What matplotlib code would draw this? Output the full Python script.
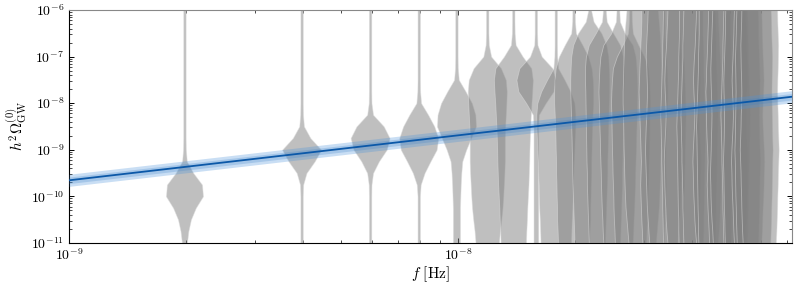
import numpy as np
import matplotlib
matplotlib.use("Agg")
import matplotlib.pyplot as plt
from matplotlib.ticker import FuncFormatter, LogLocator

plt.rcParams.update({"mathtext.fontset": "cm", "font.family": "serif",
                     "font.serif": ["DejaVu Serif"], "font.size": 11})

# ---- data ----
F_BASE = 1.98e-9                      # 1/T, Hz
HARMONICS = np.arange(1, 31)          # 30 free-spectrum bins
LOG_OMEGA_GRID = np.arange(-11.0, -5.99, 0.25)   # knots of the violin profiles

# relative violin half-widths at each knot (bottom -> top), one row per bin
VIOLIN_WIDTHS = [
    [0.13, 0.20, 0.33, 0.58, 0.95, 0.90, 0.45, 0.12, 0.07, 0.06, 0.06, 0.06, 0.06, 0.06, 0.06, 0.06, 0.06, 0.06, 0.06, 0.06, 0.06],
    [0.06, 0.06, 0.06, 0.06, 0.06, 0.08, 0.25, 0.67, 1.00, 0.45, 0.12, 0.07, 0.06, 0.06, 0.06, 0.06, 0.06, 0.06, 0.06, 0.06, 0.06],
    [0.06, 0.06, 0.06, 0.06, 0.06, 0.07, 0.15, 0.45, 0.85, 1.00, 0.70, 0.15, 0.07, 0.06, 0.06, 0.06, 0.06, 0.06, 0.06, 0.06, 0.06],
    [0.06, 0.06, 0.06, 0.06, 0.06, 0.10, 0.30, 0.60, 0.92, 1.00, 0.80, 0.48, 0.12, 0.07, 0.06, 0.06, 0.06, 0.06, 0.06, 0.06, 0.06],
    [0.18, 0.18, 0.18, 0.18, 0.20, 0.22, 0.25, 0.30, 0.50, 0.75, 1.00, 0.97, 0.79, 0.47, 0.12, 0.07, 0.06, 0.06, 0.06, 0.06, 0.06],
    [0.60, 0.65, 0.72, 0.78, 0.82, 0.85, 0.88, 0.90, 0.90, 0.90, 0.92, 0.95, 0.98, 1.00, 0.95, 0.70, 0.20, 0.08, 0.06, 0.06, 0.06],
    [0.65, 0.67, 0.70, 0.72, 0.75, 0.78, 0.80, 0.82, 0.83, 0.85, 0.87, 0.90, 0.93, 0.97, 1.00, 0.92, 0.48, 0.12, 0.07, 0.06, 0.06],
    [0.12, 0.12, 0.12, 0.12, 0.12, 0.12, 0.12, 0.12, 0.12, 0.12, 0.12, 0.15, 0.50, 0.90, 1.00, 0.85, 0.30, 0.08, 0.06, 0.06, 0.06],
    [0.78, 0.80, 0.82, 0.85, 0.87, 0.88, 0.90, 0.92, 0.95, 0.97, 1.00, 1.00, 0.95, 0.75, 0.45, 0.12, 0.07, 0.06, 0.06, 0.06, 0.06],
    [0.80, 0.82, 0.85, 0.85, 0.87, 0.88, 0.90, 0.90, 0.92, 0.93, 0.95, 0.97, 1.00, 1.00, 0.98, 0.92, 0.75, 0.45, 0.12, 0.07, 0.06],
    [0.78, 0.80, 0.82, 0.84, 0.86, 0.88, 0.90, 0.90, 0.92, 0.93, 0.95, 0.96, 0.98, 1.00, 1.00, 0.98, 0.95, 0.85, 0.60, 0.20, 0.07],
    [0.80, 0.82, 0.84, 0.86, 0.88, 0.90, 0.90, 0.92, 0.93, 0.94, 0.95, 0.96, 0.97, 0.98, 1.00, 1.00, 0.95, 0.80, 0.45, 0.12, 0.07],
    [0.75, 0.78, 0.80, 0.83, 0.85, 0.87, 0.88, 0.90, 0.92, 0.93, 0.95, 0.97, 0.98, 1.00, 0.98, 0.95, 0.90, 0.75, 0.35, 0.10, 0.07],
    [0.80, 0.82, 0.85, 0.87, 0.88, 0.90, 0.92, 0.93, 0.95, 0.96, 0.97, 0.98, 1.00, 0.98, 0.95, 0.90, 0.70, 0.40, 0.12, 0.07, 0.06],
    [0.70, 0.75, 0.80, 0.85, 0.88, 0.90, 0.92, 0.93, 0.95, 0.96, 0.97, 0.98, 1.00, 1.00, 0.98, 0.97, 0.95, 0.93, 0.90, 0.85, 0.80],
    [0.55, 0.57, 0.60, 0.62, 0.64, 0.66, 0.64, 0.62, 0.64, 0.66, 0.68, 0.70, 0.72, 0.74, 0.72, 0.70, 0.67, 0.65, 0.62, 0.60, 0.60],
    [0.72, 0.76, 0.80, 0.84, 0.86, 0.88, 0.90, 0.92, 0.94, 0.92, 0.90, 0.87, 0.85, 0.83, 0.85, 0.87, 0.90, 0.88, 0.85, 0.82, 0.80],
    [0.50, 0.52, 0.53, 0.55, 0.55, 0.57, 0.58, 0.60, 0.60, 0.62, 0.63, 0.65, 0.63, 0.61, 0.59, 0.57, 0.55, 0.55, 0.53, 0.52, 0.50],
    [0.75, 0.80, 0.84, 0.86, 0.89, 0.91, 0.92, 0.94, 0.92, 0.89, 0.86, 0.84, 0.86, 0.89, 0.91, 0.89, 0.86, 0.82, 0.80, 0.77, 0.75],
    [0.62, 0.64, 0.64, 0.66, 0.67, 0.68, 0.69, 0.70, 0.71, 0.72, 0.74, 0.72, 0.70, 0.68, 0.66, 0.64, 0.64, 0.62, 0.60, 0.60, 0.60],
    [0.80, 0.82, 0.83, 0.85, 0.85, 0.87, 0.88, 0.90, 0.90, 0.92, 0.93, 0.95, 0.93, 0.91, 0.89, 0.87, 0.85, 0.85, 0.83, 0.82, 0.80],
    [0.55, 0.60, 0.64, 0.66, 0.69, 0.71, 0.72, 0.74, 0.72, 0.69, 0.66, 0.64, 0.66, 0.69, 0.71, 0.69, 0.66, 0.62, 0.60, 0.57, 0.55],
    [0.82, 0.84, 0.84, 0.86, 0.87, 0.88, 0.89, 0.90, 0.91, 0.92, 0.94, 0.92, 0.90, 0.88, 0.86, 0.84, 0.84, 0.82, 0.80, 0.80, 0.80],
    [0.64, 0.66, 0.69, 0.72, 0.74, 0.76, 0.74, 0.72, 0.74, 0.77, 0.79, 0.80, 0.81, 0.83, 0.80, 0.79, 0.76, 0.74, 0.72, 0.70, 0.69],
    [0.80, 0.83, 0.87, 0.90, 0.92, 0.93, 0.95, 0.93, 0.91, 0.90, 0.88, 0.87, 0.88, 0.90, 0.92, 0.93, 0.91, 0.89, 0.87, 0.85, 0.83],
    [0.60, 0.62, 0.63, 0.65, 0.65, 0.67, 0.68, 0.70, 0.70, 0.72, 0.73, 0.75, 0.73, 0.71, 0.69, 0.67, 0.65, 0.65, 0.63, 0.62, 0.60],
    [0.85, 0.87, 0.88, 0.90, 0.91, 0.92, 0.93, 0.95, 0.93, 0.91, 0.90, 0.89, 0.90, 0.92, 0.93, 0.91, 0.89, 0.87, 0.85, 0.85, 0.83],
    [0.70, 0.73, 0.75, 0.77, 0.80, 0.82, 0.83, 0.85, 0.83, 0.80, 0.77, 0.75, 0.77, 0.80, 0.82, 0.80, 0.77, 0.75, 0.73, 0.72, 0.70],
    [0.86, 0.88, 0.90, 0.91, 0.93, 0.94, 0.95, 0.96, 0.98, 0.96, 0.95, 0.94, 0.93, 0.92, 0.93, 0.94, 0.95, 0.93, 0.91, 0.90, 0.88],
    [0.85, 0.88, 0.90, 0.92, 0.93, 0.95, 0.96, 0.98, 1.00, 0.98, 0.96, 0.95, 0.93, 0.92, 0.93, 0.95, 0.96, 0.97, 0.95, 0.93, 0.92],
]

# power-law fit (median) and its band, read at the axis edges
FIT_F = [1.0e-9, 7.2e-8]
FIT_OMEGA = [2.2e-10, 1.37e-8]
BAND_OUTER_DEX = 0.13
BAND_INNER_DEX = 0.07

HALF_WIDTH_DEX = 0.05     # max violin half-width, decades in f

fig, ax = plt.subplots(figsize=(7.97, 2.86), dpi=100)
fig.subplots_adjust(left=0.0866, right=0.9934, top=0.965, bottom=0.151)

freqs = F_BASE * HARMONICS
y = 10.0 ** LOG_OMEGA_GRID
for fk, w in zip(freqs, VIOLIN_WIDTHS):
    w = np.asarray(w)
    ax.fill_betweenx(y, fk * 10 ** (-HALF_WIDTH_DEX * w), fk * 10 ** (HALF_WIDTH_DEX * w),
                     facecolor=(0.5, 0.5, 0.5, 0.5), edgecolor=(0.86, 0.86, 0.86, 0.55),
                     linewidth=0.6, zorder=2)

ff = np.array(FIT_F); om = np.array(FIT_OMEGA)
ax.fill_between(ff, om * 10 ** -BAND_OUTER_DEX, om * 10 ** BAND_OUTER_DEX,
                color="#4d94db", alpha=0.3, lw=0, zorder=3)
ax.fill_between(ff, om * 10 ** -BAND_INNER_DEX, om * 10 ** BAND_INNER_DEX,
                color="#3d82c8", alpha=0.25, lw=0, zorder=3)
ax.plot(ff, om, color="#0b58a8", lw=1.3, zorder=4)

ax.set_xscale("log"); ax.set_yscale("log")
ax.set_xlim(1e-9, 7.2e-8); ax.set_ylim(1e-11, 1e-6)
fmt = FuncFormatter(lambda v, p: r"$10^{%d}$" % int(round(np.log10(v))))
ax.xaxis.set_major_formatter(fmt); ax.yaxis.set_major_formatter(fmt)
ax.yaxis.set_major_locator(LogLocator(base=10, numticks=10))
ax.yaxis.set_minor_locator(LogLocator(base=10, subs=np.arange(2, 10), numticks=20))
ax.tick_params(which="both", direction="in", top=True, right=True, labelsize=10)
ax.tick_params(which="major", length=3.5, width=0.7)
ax.tick_params(which="minor", length=2, width=0.5)
for s in ax.spines.values():
    s.set_linewidth(0.8)
ax.spines["top"].set_color("#888888"); ax.spines["right"].set_color("#888888")

ax.set_xlabel(r"$f\ [\mathrm{Hz}]$", fontsize=11, labelpad=1)
ax.set_ylabel(r"$h^2\Omega_{\mathrm{GW}}^{(0)}$", fontsize=11, labelpad=1)

fig.savefig("out.png", dpi=100, facecolor="white")
